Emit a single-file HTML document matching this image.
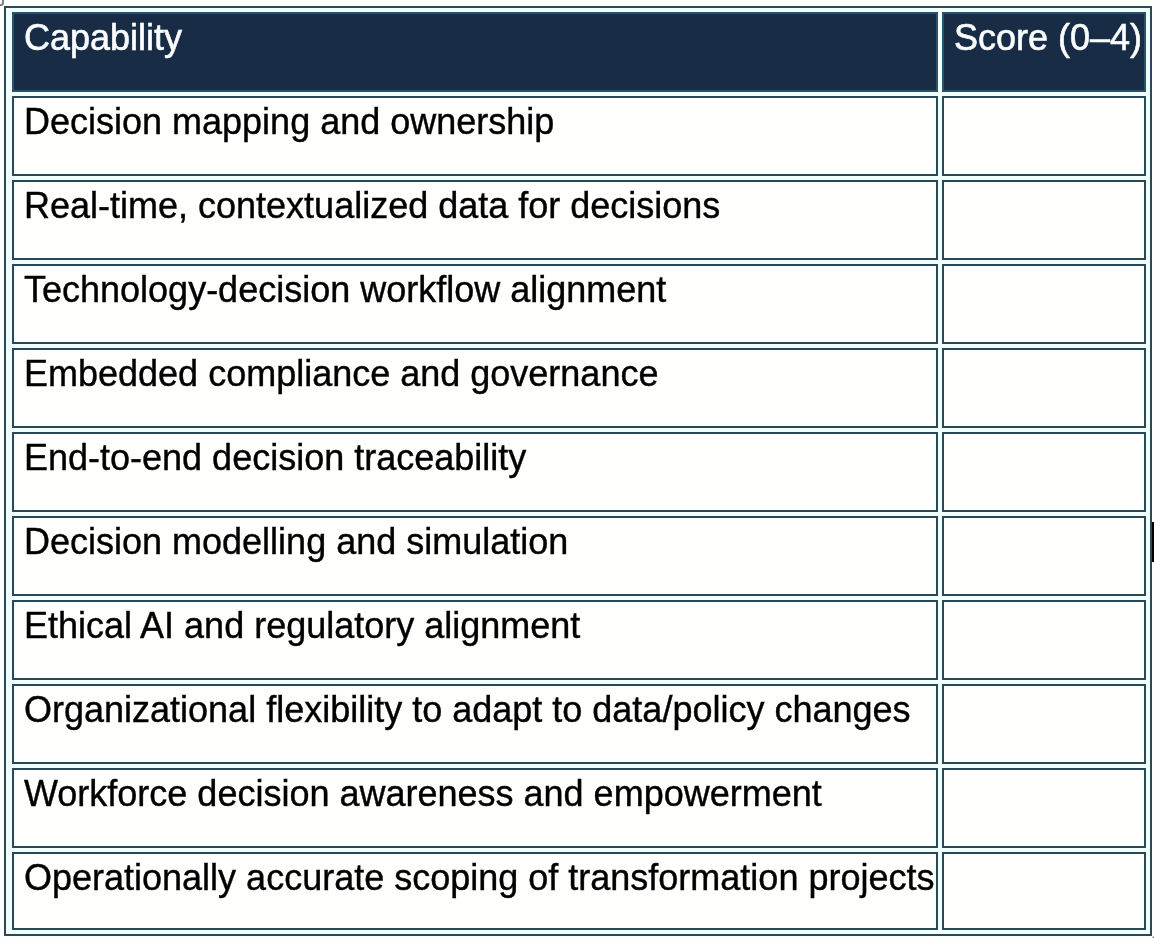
<!DOCTYPE html>
<html><head><meta charset="utf-8"><style>
html,body{margin:0;padding:0;}
body{width:1154px;height:938px;position:relative;overflow:hidden;background:#fbfffe;font-family:"Liberation Sans",sans-serif;}
.tbl{position:absolute;left:4px;top:6px;width:1144px;height:926px;border:2px solid #2a4958;background:#f0fffc;}
.c{position:absolute;box-sizing:border-box;border:2px solid #2a4958;overflow:visible;}
.c span{position:absolute;left:10px;top:2.8px;font-size:36px;line-height:41px;white-space:nowrap;-webkit-text-stroke:0.4px currentColor;will-change:transform;}
.d{background:#fffffe;color:#000;}
.h{background:#182d45;border-color:#2a526b;color:#fbfdff;}
.h span{-webkit-text-stroke:0.6px currentColor;}
.caret{position:absolute;left:1152px;top:522px;width:2px;height:39.5px;background:#000;}
.br{position:absolute;left:1152px;top:936px;width:6px;height:6px;border-radius:50%;background:#8a8a8a;filter:blur(0.6px);}
.corner{position:absolute;left:-12px;top:-10px;width:12px;height:12px;border:2px solid #847e86;border-radius:3px;background:#f7f6fb;}
</style></head><body>
<div class="corner"></div>
<div class="tbl"></div>
<div class="c h" style="left:12px;top:12px;width:926px;height:80px"><span>Capability</span></div><div class="c h" style="left:942px;top:12px;width:204px;height:80px"><span>Score (0&ndash;4)</span></div><div class="c d" style="left:12px;top:96px;width:926px;height:80px"><span>Decision mapping and ownership</span></div><div class="c d" style="left:942px;top:96px;width:204px;height:80px"></div><div class="c d" style="left:12px;top:180px;width:926px;height:80px"><span>Real-time, contextualized data for decisions</span></div><div class="c d" style="left:942px;top:180px;width:204px;height:80px"></div><div class="c d" style="left:12px;top:264px;width:926px;height:80px"><span>Technology-decision workflow alignment</span></div><div class="c d" style="left:942px;top:264px;width:204px;height:80px"></div><div class="c d" style="left:12px;top:348px;width:926px;height:80px"><span>Embedded compliance and governance</span></div><div class="c d" style="left:942px;top:348px;width:204px;height:80px"></div><div class="c d" style="left:12px;top:432px;width:926px;height:80px"><span>End-to-end decision traceability</span></div><div class="c d" style="left:942px;top:432px;width:204px;height:80px"></div><div class="c d" style="left:12px;top:516px;width:926px;height:80px"><span>Decision modelling and simulation</span></div><div class="c d" style="left:942px;top:516px;width:204px;height:80px"></div><div class="c d" style="left:12px;top:600px;width:926px;height:80px"><span>Ethical AI and regulatory alignment</span></div><div class="c d" style="left:942px;top:600px;width:204px;height:80px"></div><div class="c d" style="left:12px;top:684px;width:926px;height:80px"><span>Organizational flexibility to adapt to data/policy changes</span></div><div class="c d" style="left:942px;top:684px;width:204px;height:80px"></div><div class="c d" style="left:12px;top:768px;width:926px;height:80px"><span>Workforce decision awareness and empowerment</span></div><div class="c d" style="left:942px;top:768px;width:204px;height:80px"></div><div class="c d" style="left:12px;top:852px;width:926px;height:78px"><span>Operationally accurate scoping of transformation projects</span></div><div class="c d" style="left:942px;top:852px;width:204px;height:78px"></div>
<div class="caret"></div>
<div class="br"></div>
</body></html>
